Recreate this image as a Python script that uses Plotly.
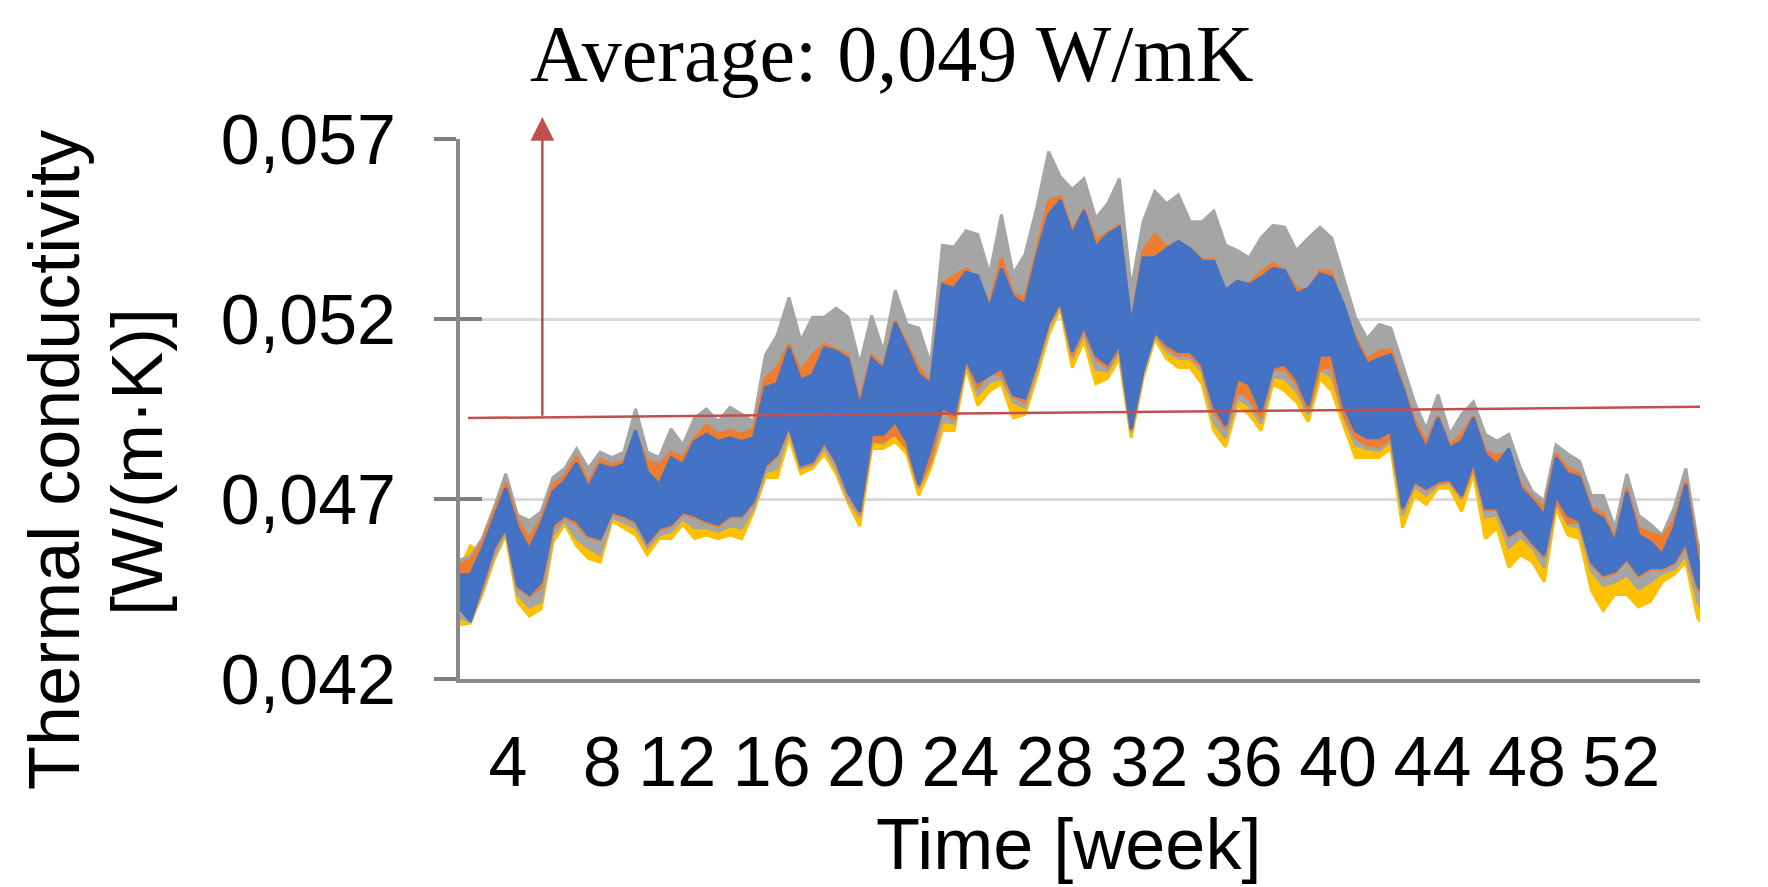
import plotly.graph_objects as go

# ---- data (thermal conductivity in 10^-3 W/(m·K)), sampled every half week ----
weeks = [1.0, 1.5, 2.0, 2.5, 3.0, 3.5, 4.0, 4.5, 5.0, 5.5, 6.0, 6.5, 7.0, 7.5, 8.0, 8.5, 9.0, 9.5, 10.0, 10.5, 11.0, 11.5, 12.0, 12.5, 13.0, 13.5, 14.0,
         14.5, 15.0, 15.5, 16.0, 16.5, 17.0, 17.5, 18.0, 18.5, 19.0, 19.5, 20.0, 20.5, 21.0, 21.5, 22.0, 22.5, 23.0, 23.5, 24.0, 24.5, 25.0, 25.5, 26.0, 26.5, 27.0, 27.5,
         28.0, 28.5, 29.0, 29.5, 30.0, 30.5, 31.0, 31.5, 32.0, 32.5, 33.0, 33.5, 34.0, 34.5, 35.0, 35.5, 36.0, 36.5, 37.0, 37.5, 38.0, 38.5, 39.0, 39.5, 40.0, 40.5,
         41.0, 41.5, 42.0, 42.5, 43.0, 43.5, 44.0, 44.5, 45.0, 45.5, 46.0, 46.5, 47.0, 47.5, 48.0, 48.5, 49.0, 49.5, 50.0, 50.5, 51.0, 51.5, 52.0, 52.5, 53.0, 53.5, 53.6]

gray_hi = [45.3, 45.4, 45.9, 46.75, 47.7, 46.55, 46.4, 46.65, 47.6, 47.85, 48.4, 47.85, 48.3, 48.15, 48.3, 49.5, 48.3, 48.15, 48.95, 48.5, 49.25, 49.5, 49.15, 49.55, 49.35, 49.15, 51.0,
           51.55, 52.6, 51.4, 52.05, 52.05, 52.3, 52.05, 50.75, 52.1, 51.1, 52.8, 51.85, 51.75, 50.75, 54.05, 54.0, 54.45, 54.35, 53.25, 54.9, 53.25, 53.8, 55.1, 56.65, 55.95, 55.6, 55.9,
           54.8, 55.2, 55.9, 52.85, 54.7, 55.55, 55.2, 55.45, 54.7, 54.7, 55.0, 54.05, 53.9, 53.7, 54.25, 54.6, 54.55, 53.9, 54.25, 54.55, 54.25, 53.15, 52.05, 51.45, 51.85, 51.75,
           50.75, 49.7, 48.95, 49.9, 48.8, 49.35, 49.7, 48.8, 48.6, 48.8, 47.85, 47.2, 46.95, 48.5, 48.25, 48.05, 47.1, 47.1, 46.2, 47.7, 46.55, 46.3, 46.0, 46.75, 47.85, 45.8, 45.6]
gray_lo = [43.7, 43.6, 44.45, 45.4, 46.1, 44.35, 44.0, 44.15, 46.0, 46.4, 45.9, 45.65, 45.45, 46.5, 46.35, 46.2, 45.65, 46.0, 46.1, 46.45, 46.2, 46.2, 46.1, 46.25, 46.2, 46.75, 47.75,
           47.85, 48.9, 47.85, 47.95, 48.4, 47.85, 47.0, 46.5, 48.6, 48.55, 48.85, 48.4, 47.3, 48.0, 49.15, 49.1, 50.8, 49.9, 50.25, 50.35, 49.7, 49.55, 50.6, 51.75, 52.4, 50.9, 51.6,
           50.6, 50.55, 51.1, 48.85, 50.5, 51.55, 51.1, 50.9, 50.9, 50.55, 49.15, 48.7, 49.8, 49.6, 49.1, 50.4, 50.35, 50.0, 49.35, 50.6, 50.4, 49.3, 48.5, 48.4, 48.35, 48.6,
           46.55, 47.35, 47.1, 47.4, 47.45, 47.0, 47.85, 46.5, 46.55, 45.65, 45.95, 45.65, 45.1, 46.9, 46.3, 46.2, 45.0, 44.6, 44.7, 44.9, 44.5, 44.7, 44.95, 45.05, 45.45, 44.15, 44.0]

orange_hi = [45.2, 45.3, 45.8, 46.65, 47.45, 46.4, 45.9, 46.45, 47.4, 47.65, 48.2, 47.45, 48.1, 47.95, 48.05, 48.8, 48.05, 47.95, 48.3, 48.15, 48.7, 49.05, 48.8, 48.9, 48.8, 48.95, 50.35,
             50.65, 51.3, 50.55, 51.0, 51.3, 51.15, 51.0, 49.7, 51.0, 50.7, 51.95, 51.3, 50.65, 50.25, 53.0, 53.2, 53.4, 53.1, 52.4, 53.7, 52.7, 52.6, 53.9, 55.3, 55.4, 54.45, 55.05,
             54.2, 54.4, 54.6, 51.85, 53.9, 54.35, 54.0, 54.15, 53.95, 53.65, 53.65, 52.6, 53.0, 53.0, 53.3, 53.55, 53.35, 52.85, 52.8, 53.35, 53.3, 52.2, 51.5, 50.9, 51.1, 51.15,
             50.2, 49.2, 48.6, 49.3, 48.5, 48.8, 49.3, 48.35, 48.2, 48.3, 47.4, 47.05, 46.75, 48.25, 47.85, 47.7, 46.75, 46.6, 45.9, 47.3, 46.2, 46.05, 45.95, 46.4, 47.5, 45.6, 45.4]
orange_lo = [44.0, 43.65, 44.55, 45.6, 46.15, 44.55, 44.3, 44.55, 46.2, 46.5, 46.3, 45.95, 45.85, 46.6, 46.5, 46.35, 45.75, 46.15, 46.25, 46.6, 46.5, 46.35, 46.25, 46.5, 46.5, 46.9, 47.9,
             48.2, 49.0, 47.9, 48.0, 48.55, 48.0, 47.15, 46.6, 48.6, 48.6, 48.8, 48.4, 47.35, 48.05, 49.5, 49.2, 50.85, 50.1, 50.5, 50.45, 49.85, 49.7, 50.75, 51.85, 52.45, 51.0, 51.7,
             50.9, 50.65, 51.2, 48.9, 50.6, 51.6, 51.2, 51.0, 51.0, 50.65, 49.45, 48.95, 50.0, 49.8, 49.25, 50.6, 50.6, 50.2, 49.45, 50.65, 50.65, 49.35, 48.7, 48.5, 48.45, 48.7,
             46.7, 47.45, 47.25, 47.45, 47.5, 47.05, 47.9, 46.7, 46.7, 45.95, 46.15, 45.75, 45.4, 46.95, 46.35, 46.35, 45.2, 44.85, 44.95, 45.3, 44.85, 45.05, 45.05, 45.2, 45.7, 44.5, 44.4]

yellow_hi = [45.0, 45.7, 45.5, 46.3, 47.1, 46.0, 45.4, 46.1, 47.0, 47.3, 47.8, 47.1, 47.7, 47.6, 47.7, 48.6, 47.5, 47.2, 47.9, 47.7, 48.3, 48.5, 48.3, 48.4, 48.3, 48.4, 49.8,
             49.9, 50.9, 50.0, 50.1, 50.9, 50.8, 50.6, 49.2, 50.6, 50.3, 51.6, 50.9, 50.1, 49.9, 52.6, 52.5, 53.0, 52.9, 52.0, 53.1, 52.3, 52.1, 53.4, 54.5, 55.0, 54.0, 54.6,
             53.6, 54.0, 54.2, 51.5, 53.3, 53.4, 53.6, 53.8, 53.6, 53.3, 53.3, 52.4, 52.7, 52.6, 52.8, 53.1, 53.0, 52.4, 52.5, 52.9, 52.8, 52.0, 51.0, 50.4, 50.5, 50.6,
             49.8, 48.8, 48.1, 49.0, 48.2, 48.4, 49.0, 48.0, 47.7, 48.0, 47.0, 46.7, 46.3, 47.9, 47.4, 47.3, 46.4, 46.2, 45.5, 46.9, 45.7, 45.5, 45.2, 45.9, 47.1, 45.0, 44.9]
yellow_lo = [43.5, 43.55, 44.35, 45.3, 46.0, 44.15, 43.75, 43.95, 45.8, 46.3, 45.7, 45.35, 45.25, 46.4, 46.2, 46.0, 45.45, 45.9, 45.9, 46.3, 45.9, 46.0, 45.9, 46.0, 45.9, 46.65, 47.6,
             47.6, 48.7, 47.7, 47.85, 48.25, 47.7, 46.9, 46.25, 48.4, 48.4, 48.6, 48.25, 47.1, 47.85, 48.9, 48.9, 50.65, 49.6, 50.0, 50.2, 49.25, 49.35, 50.4, 51.55, 52.3, 50.65, 51.4,
             50.2, 50.35, 50.9, 48.7, 50.35, 51.45, 50.9, 50.65, 50.65, 50.2, 48.9, 48.45, 49.6, 49.35, 48.9, 50.2, 50.0, 49.7, 49.15, 50.35, 50.0, 49.05, 48.15, 48.15, 48.15, 48.4,
             46.2, 47.1, 46.85, 47.3, 47.3, 46.65, 47.7, 45.9, 46.2, 45.1, 45.45, 45.25, 44.7, 46.75, 46.0, 45.9, 44.45, 43.9, 44.35, 44.35, 44.0, 44.15, 44.7, 44.9, 45.25, 43.7, 43.6]

blue_hi = [44.9, 44.9, 45.6, 46.45, 47.3, 46.2, 45.6, 46.3, 47.2, 47.5, 48.0, 47.3, 47.95, 47.85, 47.95, 48.9, 47.75, 47.4, 48.15, 47.95, 48.6, 48.8, 48.6, 48.7, 48.6, 48.7, 50.1,
           50.2, 51.2, 50.3, 50.45, 51.2, 51.1, 50.9, 49.55, 50.9, 50.6, 51.9, 51.2, 50.45, 50.2, 52.95, 52.85, 53.3, 53.2, 52.3, 53.4, 52.6, 52.4, 53.75, 54.9, 55.3, 54.35, 55.0,
           54.0, 54.35, 54.55, 51.85, 53.7, 53.7, 53.95, 54.15, 53.95, 53.6, 53.6, 52.8, 53.05, 52.95, 53.15, 53.4, 53.35, 52.7, 52.85, 53.25, 53.15, 52.4, 51.4, 50.75, 50.9, 51.0,
           50.1, 49.05, 48.4, 49.25, 48.4, 48.6, 49.25, 48.25, 47.95, 48.4, 47.3, 46.95, 46.55, 48.15, 47.7, 47.6, 46.65, 46.45, 45.8, 47.2, 46.0, 45.8, 45.45, 46.2, 47.4, 45.3, 45.1]
blue_lo = [44.0, 43.6, 44.6, 45.65, 46.2, 44.6, 44.35, 44.7, 46.3, 46.55, 46.4, 46.0, 45.9, 46.65, 46.55, 46.4, 45.8, 46.2, 46.3, 46.65, 46.55, 46.4, 46.3, 46.55, 46.55, 46.95, 47.95,
           48.25, 49.05, 47.95, 48.05, 48.6, 48.05, 47.2, 46.65, 48.8, 48.8, 49.15, 48.6, 47.4, 48.4, 49.55, 49.35, 50.9, 50.25, 50.45, 50.65, 49.9, 49.8, 50.8, 51.9, 52.5, 51.1, 51.8,
           51.0, 50.75, 51.3, 48.95, 50.55, 51.65, 51.3, 51.1, 51.1, 50.75, 49.6, 49.05, 50.35, 50.2, 49.45, 50.65, 50.75, 50.35, 49.6, 51.0, 51.0, 49.6, 48.9, 48.7, 48.7, 48.9,
           46.75, 47.5, 47.3, 47.5, 47.55, 47.1, 48.05, 46.75, 46.75, 46.0, 46.2, 45.8, 45.45, 47.1, 46.55, 46.4, 45.25, 44.9, 45.0, 45.35, 44.9, 45.1, 45.1, 45.25, 45.8, 44.6, 44.5]

tick_weeks = [4, 8, 12, 16, 20, 24, 28, 32, 36, 40, 44, 48, 52]
tick_week_labels = ["4", "8", "12", "16", "20", "24", "28", "32", "36", "40", "44", "48", "52"]
y_tick_values = [42, 47, 52, 57]
y_tick_labels = ["0,042", "0,047", "0,052", "0,057"]

avg_line_weeks = [1.4, 53.6]
avg_line_values = [49.25, 49.56]
arrow_week = 4.55
arrow_base_value = 49.27
arrow_tip_value = 57.61

# ---- styles ----
C_BLUE = "#4472C4"
C_ORANGE = "#ED7D31"
C_GRAY = "#A5A5A5"
C_YELLOW = "#FFC000"
C_RED = "#C0504D"
AXIS_COL = "#898989"
SANS = "Liberation Sans, Arial, sans-serif"

fig = go.Figure()

series = [
    (yellow_hi, yellow_lo, C_YELLOW),
    (gray_hi, gray_lo, C_GRAY),
    (orange_hi, orange_lo, C_ORANGE),
    (blue_hi, blue_lo, C_BLUE),
]
for hi, lo, col in series:
    assert len(hi) == len(weeks) and len(lo) == len(weeks)
    fig.add_trace(go.Scatter(
        x=weeks + weeks[::-1],
        y=hi + lo[::-1],
        mode="lines",
        fill="toself",
        fillcolor=col,
        line=dict(color=col, width=3),
        hoverinfo="skip",
    ))

fig.add_trace(go.Scatter(
    x=avg_line_weeks, y=avg_line_values, mode="lines",
    line=dict(color=C_RED, width=2.5), yaxis="y2", hoverinfo="skip",
))

fig.update_layout(
    width=1768, height=887,
    margin=dict(l=452, r=76, t=131, b=216),
    plot_bgcolor="white", paper_bgcolor="white",
    showlegend=False,
    xaxis=dict(
        range=[1.06, 53.6],
        showgrid=False, zeroline=False,
        showline=True, linecolor=AXIS_COL, linewidth=4,
        tickvals=tick_weeks, ticktext=tick_week_labels,
        ticks="", ticklabelposition="outside left",
        ticklabelstandoff=19,
        tickfont=dict(family=SANS, size=70, color="black"),
    ),
    yaxis=dict(
        range=[42, 57],
        tickvals=y_tick_values, ticktext=y_tick_labels,
        showgrid=True, gridcolor="#D9D9D9", gridwidth=3,
        zeroline=False,
        showline=True, linecolor=AXIS_COL, linewidth=4,
        ticks="outside", ticklen=22, tickwidth=4, tickcolor="#7F7F7F",
        ticklabelstandoff=24,
        tickfont=dict(family=SANS, size=70, color="black"),
    ),
    yaxis2=dict(
        range=[42, 57], overlaying="y", side="left",
        tickvals=y_tick_values, showticklabels=False,
        ticks="inside", ticklen=22, tickwidth=4, tickcolor="#7F7F7F",
        showgrid=False, zeroline=False, showline=False,
    ),
    annotations=[
        dict(text="Average: 0,049 W/mK", xref="paper", yref="paper", x=0.348, y=1.1565,
             xanchor="center", yanchor="middle", showarrow=False,
             font=dict(family="Liberation Serif, Times New Roman, serif", size=80, color="black")),
        dict(text="", xref="x", yref="y", x=arrow_week, y=arrow_tip_value,
             axref="x", ayref="y", ax=arrow_week, ay=arrow_base_value,
             showarrow=True, arrowhead=2, arrowwidth=2.5, arrowsize=1.9, arrowcolor=C_RED),
        dict(text="Thermal conductivity", xref="paper", yref="paper", x=-0.3275, y=0.4056,
             textangle=-90, xanchor="center", yanchor="middle", showarrow=False,
             font=dict(family=SANS, size=72, color="black")),
        dict(text="[W/(m·K)]", xref="paper", yref="paper", x=-0.2605, y=0.402,
             textangle=-90, xanchor="center", yanchor="middle", showarrow=False,
             font=dict(family=SANS, size=72, color="black")),
        dict(text="Time [week]", xref="paper", yref="paper", x=0.491, y=-0.3056,
             xanchor="center", yanchor="middle", showarrow=False,
             font=dict(family=SANS, size=72, color="black")),
    ],
)

fig.write_html("out.html")
